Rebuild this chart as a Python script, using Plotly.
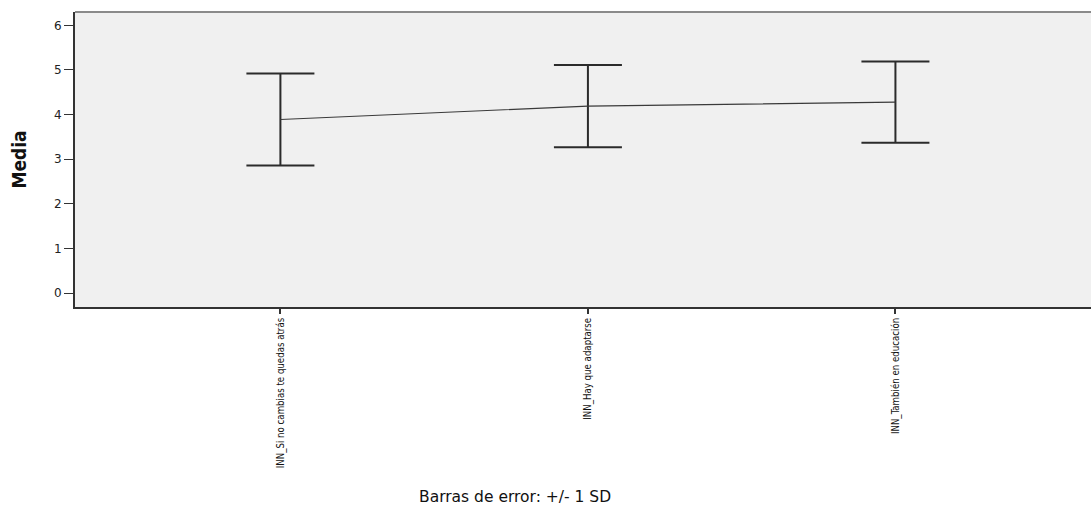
import plotly.graph_objects as go

# Item means and standard deviations (error bars: +/- 1 SD)
categorias = [
    "INN_Si no cambias te quedas atrás",
    "INN_Hay que adaptarse",
    "INN_También en educación",
]
medias = [3.89, 4.19, 4.28]
desv_tipicas = [1.03, 0.92, 0.91]
ticks_y = [0, 1, 2, 3, 4, 5, 6]

x_pos = list(range(len(categorias)))

fig = go.Figure()
fig.add_trace(go.Scatter(
    x=x_pos,
    y=medias,
    mode="lines",
    line=dict(color="#3a3a3a", width=1.2),
    error_y=dict(type="data", array=desv_tipicas, visible=True,
                 color="#2b2b2b", thickness=2, width=34),
    showlegend=False,
    hoverinfo="skip",
))

narrow = "DejaVu Sans Condensed, sans-serif"

fig.update_layout(
    width=1091, height=511,
    margin=dict(l=75, r=0, t=12, b=204),
    paper_bgcolor="white",
    plot_bgcolor="#f0f0f0",
    xaxis=dict(
        range=[-0.668, 2.636],
        tickmode="array", tickvals=x_pos, ticktext=categorias,
        tickangle=-90,
        ticks="outside", ticklen=5, tickwidth=1.5, tickcolor="#333333",
        tickfont=dict(family=narrow, size=9.6, color="#111111"),
        showline=True, linecolor="#333333", linewidth=2,
        showgrid=False, zeroline=False,
    ),
    yaxis=dict(
        range=[-0.313, 6.30],
        tickmode="array", tickvals=ticks_y,
        ticks="outside", ticklen=9, tickwidth=1.2, tickcolor="#333333",
        tickfont=dict(family="DejaVu Sans, Arial, sans-serif", size=12, color="#222222"),
        showline=True, linecolor="#333333", linewidth=2,
        showgrid=False, zeroline=False,
        title=dict(text="<b>Media</b>", standoff=22,
                   font=dict(family="DejaVu Sans Condensed, sans-serif",
                             size=19, color="#111111")),
    ),
    shapes=[dict(type="line", xref="paper", yref="paper", x0=0, x1=1, y0=1, y1=1,
                 line=dict(color="#8a8a8a", width=2))],
    annotations=[dict(text="Barras de error: +/- 1 SD", xref="paper", yref="paper",
                      x=(515 - 75) / 1016, y=-(497 - 307) / 295.3,
                      xanchor="center", yanchor="middle", showarrow=False,
                      font=dict(family="DejaVu Sans, Arial, sans-serif", size=15.5, color="#111111"))],
)

fig.write_html("out.html")
